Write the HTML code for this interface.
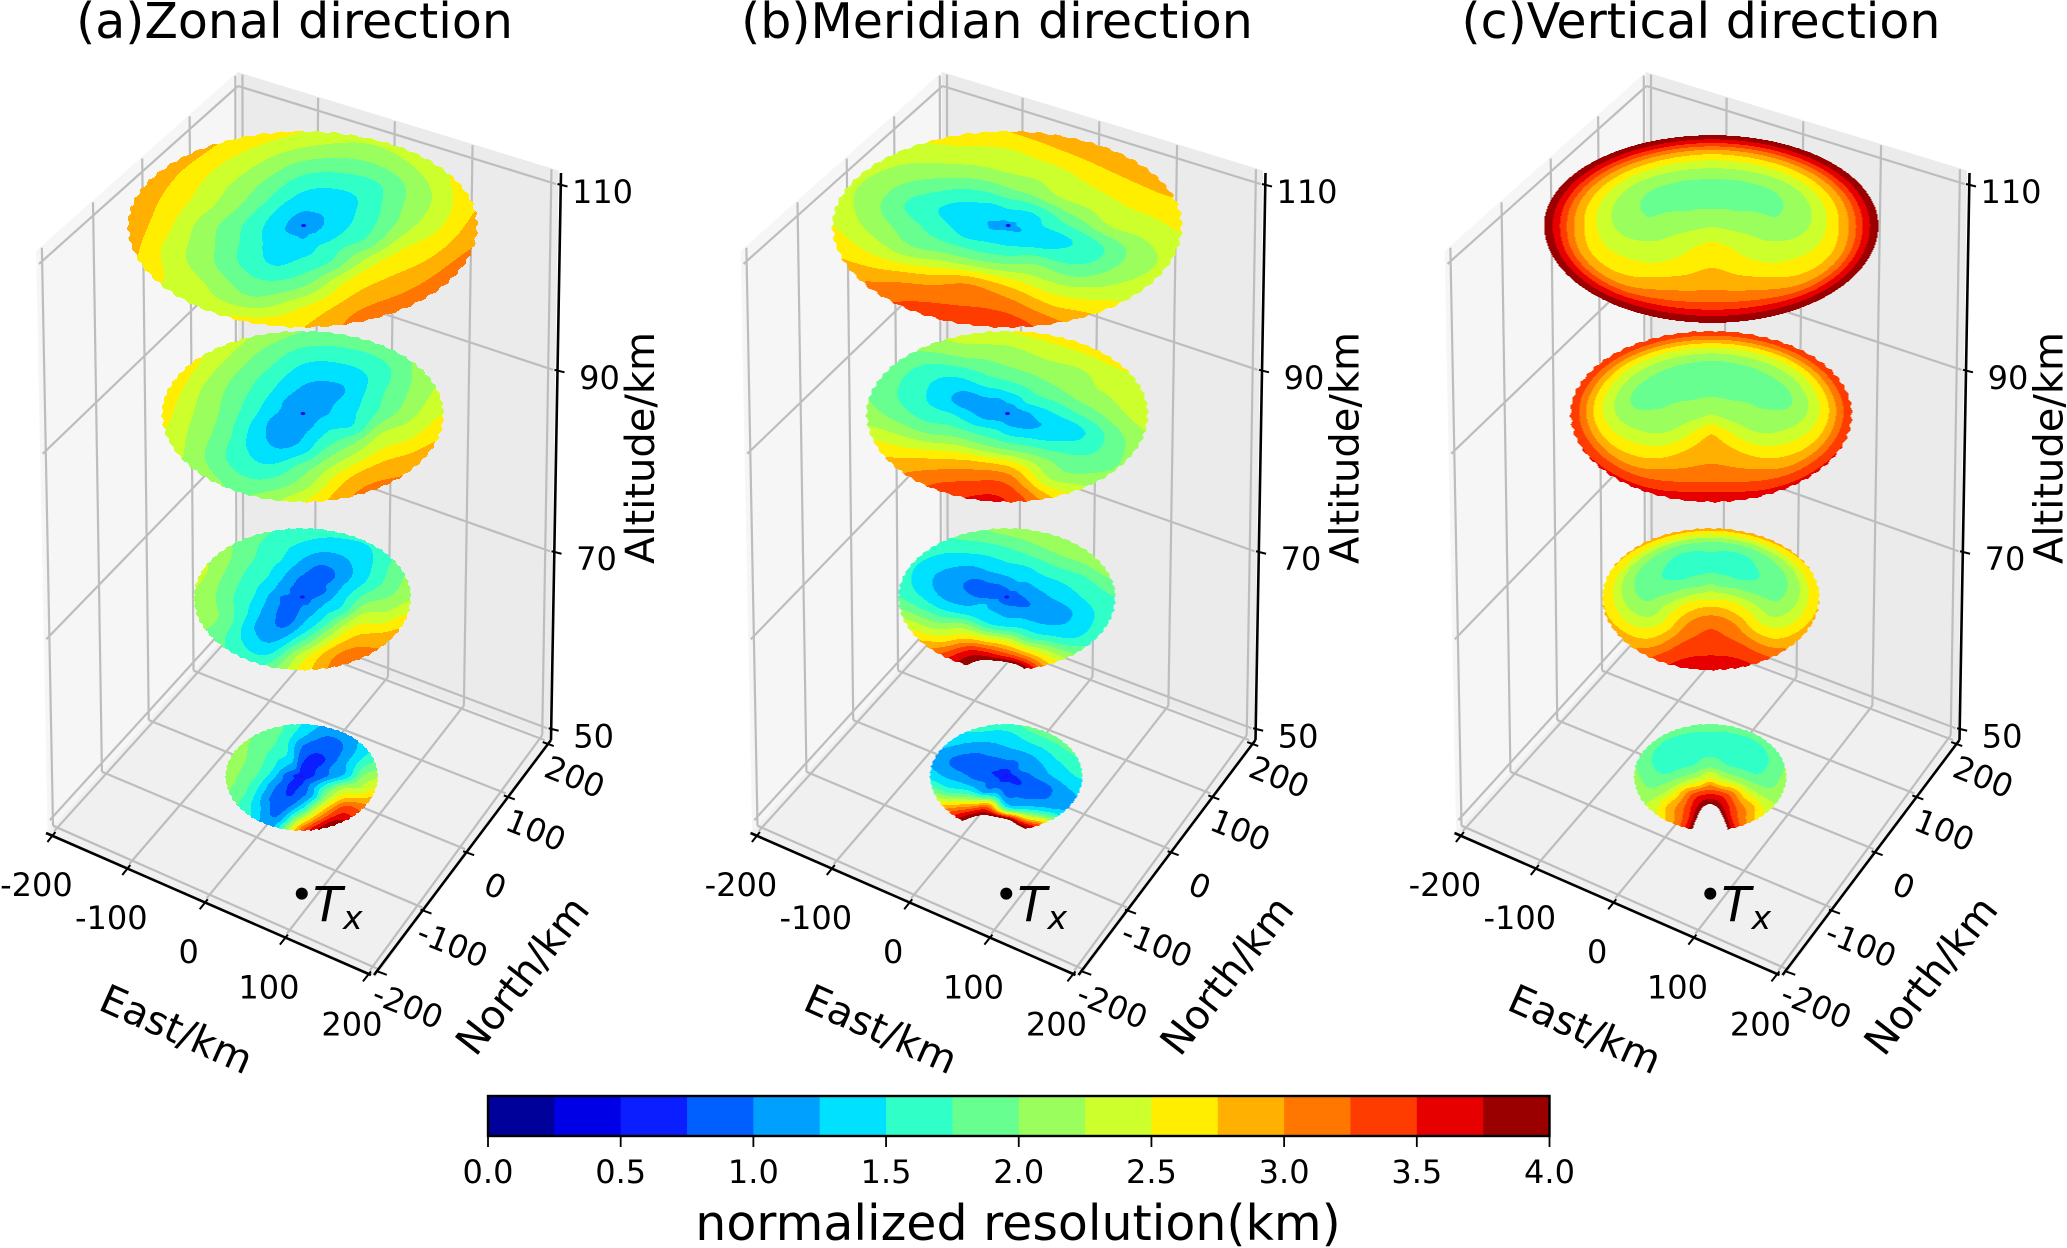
<!DOCTYPE html>
<html lang="en">
<head>
<meta charset="utf-8">
<title>Normalized resolution by direction and altitude</title>
<style>
html,body{margin:0;padding:0;background:#fff;}
svg{display:block;}
text{font-family:"DejaVu Sans","Liberation Sans",sans-serif;fill:#000;}
</style>
</head>
<body>
<svg id="chart" xmlns="http://www.w3.org/2000/svg" width="2067" height="1248" viewBox="0 0 2067 1248">
  <rect x="0" y="0" width="2067" height="1248" fill="#ffffff"/>

  <g transform="translate(0,0)">
    <g id="plot-a"></g>
    <text x="294.5" y="38" font-size="49" text-anchor="middle">(a)Zonal direction</text>
    <text transform="translate(641,448) rotate(-90)" font-size="40" text-anchor="middle" dominant-baseline="central">Altitude/km</text>
    <text transform="translate(176,1030) rotate(24)" font-size="40" text-anchor="middle" dominant-baseline="central">East/km</text>
    <text transform="translate(523,976) rotate(-52)" font-size="40" text-anchor="middle" dominant-baseline="central">North/km</text>
    <text x="313" y="921" font-size="48" font-style="italic">T</text>
    <text x="343" y="929" font-size="33" font-style="italic">x</text>
  </g>

  <g transform="translate(704.5,0)">
    <g id="plot-b"></g>
    <text x="292.5" y="38" font-size="49" text-anchor="middle">(b)Meridian direction</text>
    <text transform="translate(641,448) rotate(-90)" font-size="40" text-anchor="middle" dominant-baseline="central">Altitude/km</text>
    <text transform="translate(176,1030) rotate(24)" font-size="40" text-anchor="middle" dominant-baseline="central">East/km</text>
    <text transform="translate(523,976) rotate(-52)" font-size="40" text-anchor="middle" dominant-baseline="central">North/km</text>
    <text x="313" y="921" font-size="48" font-style="italic">T</text>
    <text x="343" y="929" font-size="33" font-style="italic">x</text>
  </g>

  <g transform="translate(1408.5,0)">
    <g id="plot-c"></g>
    <text x="292.5" y="38" font-size="49" text-anchor="middle">(c)Vertical direction</text>
    <text transform="translate(641,448) rotate(-90)" font-size="40" text-anchor="middle" dominant-baseline="central">Altitude/km</text>
    <text transform="translate(176,1030) rotate(24)" font-size="40" text-anchor="middle" dominant-baseline="central">East/km</text>
    <text transform="translate(523,976) rotate(-52)" font-size="40" text-anchor="middle" dominant-baseline="central">North/km</text>
    <text x="313" y="921" font-size="48" font-style="italic">T</text>
    <text x="343" y="929" font-size="33" font-style="italic">x</text>
  </g>

  <g id="colorbar"></g>
  <text x="1018" y="1240" font-size="49" text-anchor="middle">normalized resolution(km)</text>
</svg>

<script>
// ---- Axis values ----
const eastTicks = [-200, -100, 0, 100, 200];
const northTicks = [-200, -100, 0, 100, 200];
const altitudeTicks = [50, 70, 90, 110];

// ---- Colour scale ----
const levels = [0, 0.25, 0.5, 0.75, 1, 1.25, 1.5, 1.75, 2, 2.25, 2.5, 2.75, 3, 3.25, 3.5, 3.75, 4];
const bandColors = ['#00009b', '#0000e6', '#0a1eff', '#0060ff', '#00a0ff', '#00e0ff', '#30ffc8', '#66ff90', '#9aff5c', '#ccff2c', '#ffee00', '#ffb000', '#ff7700', '#ff3c00', '#e60000', '#9a0000'];
const colorbarTicks = [0, 0.5, 1, 1.5, 2, 2.5, 3, 3.5, 4];
const colorbarTickLabels = ['0.0', '0.5', '1.0', '1.5', '2.0', '2.5', '3.0', '3.5', '4.0'];

// ---- Slice data ----
const sliceAltitudes = [50, 70, 90, 110];
const zonalRadiusKm = [86, 121, 155, 190];
const meridianRadiusKm = [86, 121, 155, 190];
const verticalRadiusKm = [86, 121, 155, 182];
const transmitterEast = 85;
const transmitterNorth = -148;

// Resolution (km): one row per view angle (0 = right, 22.5 degree steps
// anticlockwise), columns at 20/40/60/80/100 percent of the slice radius. Above 4 is not drawn.
const zonalCenter = [0.6, 0.85, 1.03, 1.1];
const zonal50 = [
 [0.8,1.1,1.4,2,2.2],[0.76,1,1.2,1.45,1.6],[0.7,0.72,0.9,1.02,1.22],[0.65,0.7,0.85,0.98,1.15],
 [0.74,0.9,1.05,1.35,1.5],[1.05,1.4,1.6,1.75,1.9],[1.1,1.45,1.72,1.88,2.02],[1,1.5,1.8,2,2.15],
 [0.9,1.4,1.75,1.95,2.15],[0.9,1.1,1.45,1.75,1.9],[0.7,0.85,1,1.3,1.55],[0.7,0.75,0.9,1.02,1.22],
 [0.8,1,1.5,2.4,3.2],[0.95,1.3,2.3,3.2,3.98],[1.05,1.75,2.5,3.3,3.4],[0.95,1.6,2.25,2.45,2.75]
];
const zonal70 = [
 [1.1,1.47,1.85,2,2.2],[0.95,1.25,1.45,1.7,1.95],[0.97,0.98,1.2,1.4,1.55],[0.85,0.9,1.12,1.37,1.55],
 [0.88,1.1,1.3,1.5,1.65],[1,1.28,1.55,1.65,1.8],[1.05,1.45,1.65,1.9,2.05],[1.12,1.45,1.72,2,2.3],
 [1,1.42,1.7,2,2.2],[0.98,1.25,1.6,1.95,2.05],[0.9,1.05,1.22,1.5,1.75],[0.85,0.95,1.18,1.42,1.7],
 [1.1,1.28,1.75,2.35,2.6],[1.15,1.55,2.25,2.9,3.15],[1.2,1.7,2.45,2.85,3],[1.2,1.55,2.25,2.4,2.7]
];
const zonal90 = [
 [1.27,1.53,1.9,2.22,2.5],[1.22,1.42,1.72,1.97,2.2],[1.15,1.23,1.45,1.68,1.95],[1.1,1.23,1.42,1.68,1.9],
 [1.15,1.3,1.5,1.75,2],[1.2,1.47,1.74,1.98,2.25],[1.25,1.62,1.88,2.2,2.5],[1.3,1.67,1.98,2.28,2.65],
 [1.27,1.65,2,2.28,2.6],[1.15,1.47,1.85,2.1,2.35],[1.1,1.28,1.55,1.8,2.1],[1.07,1.22,1.47,1.74,2],
 [1.2,1.38,1.85,2.12,2.48],[1.3,1.7,2.2,2.72,3.02],[1.38,1.75,2.3,2.78,3],[1.35,1.55,2.25,2.5,2.8]
];
const zonal110 = [
 [1.4,1.73,2.17,2.5,2.85],[1.35,1.61,1.96,2.25,2.6],[1.3,1.47,1.72,2.08,2.4],[1.3,1.47,1.75,2.05,2.3],
 [1.31,1.55,1.85,2.2,2.5],[1.38,1.75,2.1,2.4,2.7],[1.45,1.92,2.25,2.55,2.85],[1.47,1.95,2.33,2.65,2.9],
 [1.45,1.85,2.2,2.6,2.9],[1.4,1.76,2.08,2.35,2.7],[1.38,1.57,1.88,2.25,2.4],[1.38,1.47,1.78,2.08,2.55],
 [1.35,1.63,2,2.5,2.75],[1.47,1.77,2.47,2.85,3.15],[1.47,1.97,2.6,2.85,3.2],[1.45,1.82,2.47,2.75,3.1]
];

const meridianCenter = [0.6, 0.85, 1.05, 1.2];
const meridian50 = [
 [0.85,1.05,1.25,1.42,1.55],[0.97,1.08,1.35,1.55,1.75],[0.97,1.1,1.35,1.6,1.85],[0.85,1.1,1.35,1.6,1.85],
 [0.85,1.1,1.28,1.42,1.65],[0.8,1,1.15,1.35,1.58],[0.8,0.9,0.98,1.18,1.38],[0.75,0.8,0.87,1,1.2],
 [0.8,0.9,1.1,1.22,1.4],[0.9,1.1,1.45,1.75,2.2],[0.88,1.15,2.15,3,3.45],[0.9,1.5,3.1,4.1,4.5],
 [0.88,1.05,1.75,4.1,4.6],[0.85,0.98,1.25,2.3,3.5],[0.72,0.9,1,1.2,1.45],[0.75,0.85,0.95,1.15,1.25]
];
const meridian70 = [
 [1.05,1.25,1.42,1.6,1.75],[1.12,1.35,1.55,1.78,2.1],[1.12,1.42,1.7,2,2.2],[1.2,1.38,1.7,2,2.2],
 [1.1,1.38,1.6,1.85,2.12],[1,1.25,1.42,1.65,1.85],[0.95,1.02,1.22,1.42,1.6],[0.92,0.98,1.12,1.32,1.55],
 [0.95,1.08,1.24,1.52,1.75],[1.22,1.3,1.6,2,2.4],[1.2,1.5,2.25,2.6,3],[1.2,1.5,2.5,3.55,3.95],
 [1.15,1.48,2.45,3.4,4.6],[1.1,1.38,1.7,2.4,2.8],[1,1.15,1.3,1.5,1.8],[0.98,1.08,1.2,1.42,1.65]
];
const meridian90 = [
 [1.3,1.6,1.9,2.2,2.4],[1.45,1.8,2.15,2.3,2.45],[1.53,1.9,2.12,2.3,2.6],[1.45,1.85,2.12,2.35,2.6],
 [1.38,1.75,2.03,2.22,2.5],[1.24,1.6,1.8,2.1,2.3],[1.2,1.27,1.47,1.7,1.95],[1.1,1.22,1.47,1.7,1.95],
 [1.2,1.5,1.65,1.9,2.1],[1.3,1.75,2,2.35,2.6],[1.45,1.95,2.5,2.87,3.05],[1.5,2.03,2.8,3.2,3.45],
 [1.4,1.97,2.77,3.25,3.5],[1.3,1.75,2.15,2.25,2.6],[1.2,1.45,1.7,1.85,2.05],[1.23,1.3,1.5,1.83,2.1]
];
const meridian110 = [
 [1.5,1.85,2.28,2.4,2.55],[1.5,2.08,2.4,2.62,2.8],[1.52,2.2,2.45,2.72,2.95],[1.55,2.12,2.35,2.67,2.95],
 [1.55,2,2.3,2.48,2.75],[1.42,1.75,2.1,2.37,2.55],[1.38,1.55,1.88,2.13,2.35],[1.3,1.47,1.7,2.05,2.3],
 [1.32,1.6,1.9,2.2,2.5],[1.35,1.75,2.05,2.5,2.8],[1.47,1.95,2.55,3,3.2],[1.52,2.07,2.95,3.2,3.4],
 [1.5,2.07,2.75,3.15,3.4],[1.45,1.97,2.27,2.6,2.9],[1.35,1.6,1.83,2.2,2.45],[1.35,1.5,1.75,2.1,2.3]
];

const verticalCenter = [2.45, 2.42, 2.24, 2.24];
const vertical50 = [
 [2.15,1.95,1.8,1.88,2.05],[2,1.75,1.62,1.72,1.95],[1.95,1.62,1.52,1.6,1.9],[1.9,1.7,1.52,1.65,1.9],
 [1.93,1.72,1.55,1.7,1.9],[1.9,1.7,1.52,1.65,1.9],[1.95,1.62,1.52,1.6,1.9],[2,1.75,1.62,1.72,1.95],
 [2.15,1.95,1.8,1.88,2.05],[2.4,2.35,2.2,2.1,2.15],[2.6,3,2.85,2.78,2.5],[2.95,3.5,3.55,3.4,3.3],
 [3.1,3.7,4.2,4.6,4.8],[2.95,3.5,3.55,3.4,3.3],[2.6,3,2.85,2.78,2.5],[2.4,2.35,2.2,2.1,2.15]
];
const vertical70 = [
 [2.3,2.08,1.95,2.22,2.75],[2.15,1.85,1.82,2.1,2.75],[2,1.72,1.75,2.05,2.8],[1.95,1.7,1.65,2,2.85],
 [1.98,1.7,1.7,2,2.85],[1.95,1.7,1.65,2,2.85],[2,1.72,1.75,2.05,2.8],[2.15,1.85,1.82,2.1,2.75],
 [2.3,2.08,1.95,2.22,2.75],[2.55,2.4,2.2,2.4,2.8],[2.7,2.75,2.65,2.75,3],[2.85,3.1,3.2,3.35,3.5],
 [2.9,3.22,3.3,3.5,3.7],[2.85,3.1,3.2,3.35,3.5],[2.7,2.75,2.65,2.75,3],[2.55,2.4,2.2,2.4,2.8]
];
const vertical90 = [
 [2.1,2.03,2.1,2.6,3.45],[2.08,1.95,1.98,2.55,3.45],[2.02,1.9,1.97,2.5,3.45],[2,1.87,1.95,2.5,3.45],
 [2,1.87,1.93,2.5,3.45],[2,1.87,1.95,2.5,3.45],[2.02,1.9,1.97,2.5,3.45],[2.08,1.95,1.98,2.55,3.45],
 [2.1,2.03,2.1,2.6,3.45],[2.2,2.15,2.35,2.75,3.5],[2.35,2.4,2.6,2.95,3.55],[2.55,2.72,2.9,3.2,3.6],
 [2.7,2.88,3.03,3.3,3.75],[2.55,2.72,2.9,3.2,3.6],[2.35,2.4,2.6,2.95,3.55],[2.2,2.15,2.35,2.75,3.5]
];
const vertical110 = [
 [2.15,2.05,2.28,2.9,3.95],[2.12,1.98,2.18,2.85,3.95],[2.02,1.92,2.12,2.82,3.95],[2,1.88,2.15,2.82,3.95],
 [1.98,1.88,2.17,2.8,3.95],[2,1.88,2.15,2.82,3.95],[2.02,1.92,2.12,2.82,3.95],[2.12,1.98,2.18,2.85,3.95],
 [2.15,2.05,2.28,2.9,3.95],[2.25,2.24,2.42,2.85,3.95],[2.36,2.38,2.58,2.95,3.95],[2.48,2.6,2.8,3.2,3.95],
 [2.55,2.72,2.9,3.28,3.95],[2.48,2.6,2.8,3.2,3.95],[2.36,2.38,2.58,2.95,3.95],[2.25,2.24,2.42,2.85,3.95]
];

// ---- Panel wiring ----
const panelIds = ['a', 'b', 'c'];
const panelCenters = [zonalCenter, meridianCenter, verticalCenter];
const panelRadii = [zonalRadiusKm, meridianRadiusKm, verticalRadiusKm];
const panelSlices = [
  [zonal50, zonal70, zonal90, zonal110],
  [meridian50, meridian70, meridian90, meridian110],
  [vertical50, vertical70, vertical90, vertical110]
];
const panelHasCenterDot = [true, true, false];

// ---- 3D axis functions ----
const boxHalf = 206;
const zFloor = 49;
const zTop = 110;
const zPaneTop = 111.4;
const zPaneBottom = 48.7;
const sliceDropPx = 2.5;
const SVG_NS = 'http://www.w3.org/2000/svg';

function quadMap(q) {
  const [x0, y0] = q[0], [x1, y1] = q[1], [x2, y2] = q[2], [x3, y3] = q[3];
  const dx1 = x1 - x2, dx2 = x3 - x2, sx = x0 - x1 + x2 - x3;
  const dy1 = y1 - y2, dy2 = y3 - y2, sy = y0 - y1 + y2 - y3;
  const det = dx1 * dy2 - dx2 * dy1;
  const g = (sx * dy2 - dx2 * sy) / det, h = (dx1 * sy - sx * dy1) / det;
  const a = x1 - x0 + g * x1, b = x3 - x0 + h * x3, d = y1 - y0 + g * y1, e = y3 - y0 + h * y3;
  return function (u, v) {
    const w = g * u + h * v + 1;
    return [(a * u + b * v + x0) / w, (d * u + e * v + y0) / w];
  };
}
const floorMap = quadMap([[50, 829], [375, 972.6], [547, 737], [239, 620.5]]);
const topMap = quadMap([[39, 264], [377, 376], [556, 184], [238, 86]]);

function project(east, north, altitude) {
  const u = (east + boxHalf) / (2 * boxHalf), v = (north + boxHalf) / (2 * boxHalf);
  const pf = floorMap(u, v), pt = topMap(u, v);
  let t = (altitude - zFloor) / (zTop - zFloor);
  t = t - 0.037 * t * (1 - t);
  return [pf[0] + (pt[0] - pf[0]) * t, pf[1] + (pt[1] - pf[1]) * t];
}
function colorbarX(value) {
  return 488 + (value - levels[0]) / (levels[levels.length - 1] - levels[0]) * 1061.5;
}

function make(tag, attrs, parent) {
  const node = document.createElementNS(SVG_NS, tag);
  for (const key in attrs) node.setAttribute(key, attrs[key]);
  parent.appendChild(node);
  return node;
}
function pointsOf(list) {
  return list.map(function (p) { return p[0].toFixed(1) + ',' + p[1].toFixed(1); }).join(' ');
}
const gridStyle = { stroke: '#bdbdbd', 'stroke-width': 2.2, fill: 'none' };
function gridLine(parent, a, b) {
  return make('line', Object.assign({ x1: a[0], y1: a[1], x2: b[0], y2: b[1] }, gridStyle), parent);
}
function inkLine(parent, a, b, width) {
  return make('line', { x1: a[0], y1: a[1], x2: b[0], y2: b[1], stroke: '#000', 'stroke-width': width }, parent);
}

// ---- Field lookup ----
function cubic(p0, p1, p2, p3, t) {
  return 0.5 * (2 * p1 + (p2 - p0) * t + (2 * p0 - 5 * p1 + 4 * p2 - p3) * t * t + (3 * p1 - p0 - 3 * p2 + p3) * t * t * t);
}
function ringValue(table, center, ring, angleIndex, f) {
  if (ring <= 0) return center;
  const col = Math.min(ring, 5) - 1;
  const n = table.length;
  return cubic(
    table[(angleIndex - 1 + n) % n][col],
    table[angleIndex % n][col],
    table[(angleIndex + 1) % n][col],
    table[(angleIndex + 2) % n][col],
    f
  );
}
function fieldValue(table, center, r, theta) {
  const n = table.length;
  let a = theta / (2 * Math.PI) * n;
  a = ((a % n) + n) % n;
  const i = Math.floor(a), f = a - i;
  const p = Math.min(r, 1) / 0.2;
  const k = Math.min(Math.floor(p), 4), t = p - k;
  return cubic(
    ringValue(table, center, k - 1, i, f),
    ringValue(table, center, k, i, f),
    ringValue(table, center, k + 1, i, f),
    ringValue(table, center, k + 2, i, f),
    t
  );
}

function drawSlice(parent, panelId, table, center, altitude, radius, rough) {
  const c = project(0, 0, altitude);
  let minX = 1e9, maxX = -1e9, minY = 1e9, maxY = -1e9;
  for (let i = 0; i < 72; i++) {
    const ang = i / 72 * 2 * Math.PI;
    const p = project(radius * Math.cos(ang), radius * Math.sin(ang), altitude);
    minX = Math.min(minX, p[0]); maxX = Math.max(maxX, p[0]);
    minY = Math.min(minY, p[1]); maxY = Math.max(maxY, p[1]);
  }
  const left = c[0] - minX, right = maxX - c[0], up = c[1] - minY, down = maxY - c[1];
  const cy = c[1] + sliceDropPx;
  const top = cy - up, bottom = cy + down;
  const step = levels[1] - levels[0];
  const paths = bandColors.map(function () { return []; });
  for (let y = Math.floor(top) - 2; y <= Math.ceil(bottom) + 2; y++) {
    let runBand = -1, runStart = 0;
    for (let x = Math.floor(minX) - 2; x <= Math.ceil(maxX) + 3; x++) {
      const dx = x + 0.5 - c[0], dy = y + 0.5 - cy;
      const u = dx / (dx < 0 ? left : right), v = -dy / (dy < 0 ? up : down);
      const r = Math.hypot(u, v), theta = Math.atan2(v, u);
      const limit = 1 + rough * Math.sin(theta * 60);
      let band = -1;
      if (r <= limit) {
        const val = fieldValue(table, center, r, theta);
        if (val < levels[levels.length - 1]) band = Math.max(0, Math.floor((val - levels[0]) / step));
      }
      if (band !== runBand) {
        if (runBand >= 0) paths[runBand].push('M' + runStart + ' ' + y + 'h' + (x - runStart) + 'v1h' + (runStart - x) + 'z');
        runBand = band;
        runStart = x;
      }
    }
  }
  const group = make('g', { 'shape-rendering': 'crispEdges' }, parent);
  
  
  paths.forEach(function (segments, band) {
    if (!segments.length) return;
    const path = make('path', { d: segments.join(''), fill: bandColors[band] }, group);
    
    
  });
}

// ---- Draw a panel ----
function drawPanel(index) {
  const panelId = panelIds[index];
  const root = document.getElementById('plot-' + panelId);
  const L = boxHalf;
  const over = L + 2;

  const leftWall = make('polygon', { fill: '#f6f6f6', points: pointsOf([project(-over, -over, zPaneBottom), project(-over, over, zPaneBottom), project(-over, over, zPaneTop), project(-over, -over, zPaneTop)]) }, root);
  
  
  const backWall = make('polygon', { fill: '#ebebeb', points: pointsOf([project(-over, over, zPaneBottom), project(over, over, zPaneBottom), project(over, over, zPaneTop), project(-over, over, zPaneTop)]) }, root);
  
  
  const floorPane = make('polygon', { fill: '#f0f0f0', points: pointsOf([project(-over, -over, zPaneBottom), project(over, -over, zPaneBottom), project(over, over, zPaneBottom), project(-over, over, zPaneBottom)]) }, root);
  
  

  const grid = make('g', {}, root);
  
  
  eastTicks.forEach(function (e) {
    const floorLine = gridLine(grid, project(e, -L, zFloor), project(e, L, zFloor));
    
    
    const wallLine = gridLine(grid, project(e, L, zFloor), project(e, L, zPaneTop));
    
    
  });
  northTicks.forEach(function (n) {
    const floorLine = gridLine(grid, project(-L, n, zFloor), project(L, n, zFloor));
    
    
    const wallLine = gridLine(grid, project(-L, n, zFloor), project(-L, n, zPaneTop));
    
    
  });
  altitudeTicks.forEach(function (z) {
    const leftLine = gridLine(grid, project(-L, -L, z), project(-L, L, z));
    
    
    const backLine = gridLine(grid, project(-L, L, z), project(L, L, z));
    
    
  });

  // Axes
  const eastAxis = inkLine(root, [46, 833], [371, 975], 2.6);
  
  
  const northAxis = inkLine(root, [374, 975], [551, 740], 2.6);
  
  
  const altAxis = inkLine(root, [551, 740], [561, 173], 2.6);
  
  

  eastTicks.forEach(function (e) {
    const p = project(e, -L, zFloor);
    const q = [p[0] - 3, p[1] + 6];
    const tick = inkLine(root, [q[0] - 4, q[1] + 5], [q[0] + 4, q[1] - 5], 2);
    
    
    const label = make('text', { x: q[0] - 15, y: q[1] + 48, 'font-size': 32, 'text-anchor': 'middle', 'dominant-baseline': 'central' }, root);
    label.textContent = String(e);
    
    
  });
  northTicks.forEach(function (n) {
    const p = project(L, n, zFloor);
    const q = [p[0] + 3, p[1] + 4];
    const tick = inkLine(root, [q[0] - 5, q[1] - 2], [q[0] + 6, q[1] + 2], 2);
    
    
    const label = make('text', { transform: 'translate(' + (q[0] + 27) + ',' + (q[1] + 33) + ') rotate(22)', 'font-size': 32, 'text-anchor': 'middle', 'dominant-baseline': 'central' }, root);
    label.textContent = String(n);
    
    
  });
  altitudeTicks.forEach(function (z) {
    const p = project(L, L, z);
    const q = [p[0] + 5.5, p[1] + 1];
    const tick = inkLine(root, [q[0] - 4, q[1] - 1], [q[0] + 6, q[1] + 1.5], 2);
    
    
    const label = make('text', { x: q[0] + 41, y: q[1] + 7, 'font-size': 32, 'text-anchor': 'middle', 'dominant-baseline': 'central' }, root);
    label.textContent = String(z);
    
    
  });

  // Slices, lowest first
  sliceAltitudes.forEach(function (alt, k) {
    const smooth = panelId === 'c' && alt === 110;
    drawSlice(root, panelId, panelSlices[index][k], panelCenters[index][k], alt, panelRadii[index][k], smooth ? 0 : 0.007);
    if (panelHasCenterDot[index]) {
      const c = project(0, 0, alt);
      const dot = make('ellipse', { cx: c[0], cy: c[1] + sliceDropPx, rx: 2.5, ry: 1.6, fill: '#1a12e8' }, root);
      
      
    }
  });

  const tx = project(transmitterEast, transmitterNorth, zFloor);
  const txDot = make('circle', { cx: tx[0], cy: tx[1], r: 6, fill: '#000' }, root);
  
  
}
panelIds.forEach(function (id, i) { drawPanel(i); });

// ---- Colorbar ----
(function () {
  const bar = document.getElementById('colorbar');
  const barTop = 1096, barBottom = 1136;
  bandColors.forEach(function (color, i) {
    const x0 = colorbarX(levels[i]), x1 = colorbarX(levels[i + 1]);
    const seg = make('rect', { x: x0, y: barTop, width: x1 - x0 + 0.5, height: barBottom - barTop, fill: color }, bar);
    
    
  });
  const frame = make('rect', { x: colorbarX(levels[0]), y: barTop, width: colorbarX(levels[levels.length - 1]) - colorbarX(levels[0]), height: barBottom - barTop, fill: 'none', stroke: '#000', 'stroke-width': 2.4 }, bar);
  
  
  colorbarTicks.forEach(function (v, i) {
    const x = colorbarX(v);
    const tick = inkLine(bar, [x, barBottom], [x, barBottom + 11], 1.8);
    
    
    const label = make('text', { x: x, y: 1172, 'font-size': 32, 'text-anchor': 'middle', 'dominant-baseline': 'central' }, bar);
    label.textContent = colorbarTickLabels[i];
    
    
  });
})();
</script>
</body>
</html>
